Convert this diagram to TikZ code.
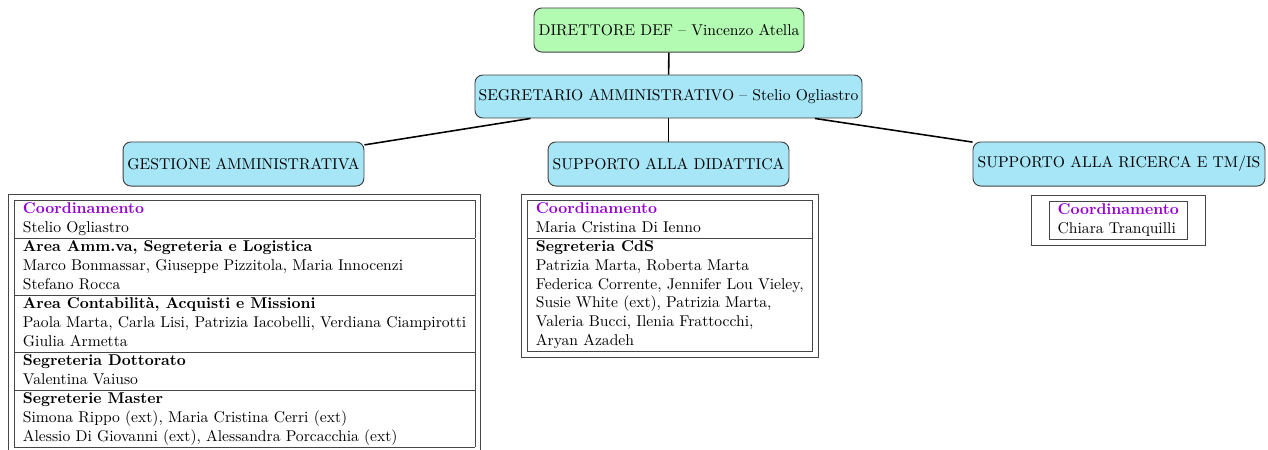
\documentclass[tikz,border=0pt]{standalone}
\usepackage{array}
\usepackage{colortbl}
\definecolor{boxgreen}{RGB}{179,250,179}
\definecolor{boxblue}{RGB}{166,230,246}
\definecolor{coordpurple}{RGB}{150,0,210}
\definecolor{rulegray}{RGB}{70,70,70}
\newcommand{\coordhead}[1]{\textcolor{coordpurple}{\textbf{#1}}}
\begin{document}
\begin{tikzpicture}[x=0.64pt,y=-0.64pt,
  every node/.style={font=\fontsize{10}{12}\selectfont},
  unitbox/.style={draw=black!75, line width=0.6pt, rounded corners=5pt,
    minimum height=28.2pt, inner xsep=2pt, align=center},
  dirbox/.style={unitbox, fill=boxgreen},
  secbox/.style={unitbox, fill=boxblue},
  tabframe/.style={draw=rulegray, line width=0.5pt, inner sep=3.5pt, anchor=north west},
  conn/.style={draw=black, line width=1pt}
]
\useasboundingbox (0,0) rectangle (1268,449);
\clip (0,0) rectangle (1268,449);

\node[dirbox, minimum width=172.8pt] (dir) at (669,30) {DIRETTORE DEF -- Vincenzo Atella};
\node[secbox, minimum width=247.7pt, minimum height=27.5pt] (seg) at (668.5,96.5) {SEGRETARIO AMMINISTRATIVO -- Stelio Ogliastro};
\node[secbox, minimum width=154.2pt] (gest) at (243.5,164) {GESTIONE AMMINISTRATIVA};
\node[secbox, minimum width=154.2pt] (did) at (668.5,164) {SUPPORTO ALLA DIDATTICA};
\node[secbox, minimum width=186.9pt] (ric) at (1119,164) {SUPPORTO ALLA RICERCA E TM/IS};

\draw[conn] (dir) -- (seg);
\draw[conn] (seg) -- (did);
\draw[conn] (seg) -- (gest);
\draw[conn] (seg) -- (ric);

\node[tabframe] (tgest) at (8,194) {\arrayrulecolor{rulegray}\setlength\tabcolsep{5.4pt}%
\begin{tabular}{|l|}\hline
\coordhead{Coordinamento}\\
Stelio Ogliastro\\\hline
\textbf{Area Amm.va, Segreteria e Logistica}\\
Marco Bonmassar, Giuseppe Pizzitola, Maria Innocenzi\\
Stefano Rocca\\\hline
\textbf{Area Contabilità, Acquisti e Missioni}\\
Paola Marta, Carla Lisi, Patrizia Iacobelli, Verdiana Ciampirotti\\
Giulia Armetta\\\hline
\textbf{Segreteria Dottorato}\\
Valentina Vaiuso\\\hline
\textbf{Segreterie Master}\\
Simona Rippo (ext), Maria Cristina Cerri (ext)\\
Alessio Di Giovanni (ext), Alessandra Porcacchia (ext)\\\hline
\end{tabular}};

\node[tabframe] (tdid) at (521,194) {\arrayrulecolor{rulegray}\setlength\tabcolsep{5.4pt}%
\begin{tabular}{|l|}\hline
\coordhead{Coordinamento}\\
Maria Cristina Di Ienno\\\hline
\textbf{Segreteria CdS}\\
Patrizia Marta, Roberta Marta\\
Federica Corrente, Jennifer Lou Vieley,\\
Susie White (ext), Patrizia Marta,\\
Valeria Bucci, Ilenia Frattocchi,\\
Aryan Azadeh\\\hline
\end{tabular}};

\node[tabframe, inner xsep=11pt] (tric) at (1031,195) {\arrayrulecolor{rulegray}\setlength\tabcolsep{5.4pt}%
\begin{tabular}{|l|}\hline
\coordhead{Coordinamento}\\
Chiara Tranquilli\\\hline
\end{tabular}};
\end{tikzpicture}
\end{document}
